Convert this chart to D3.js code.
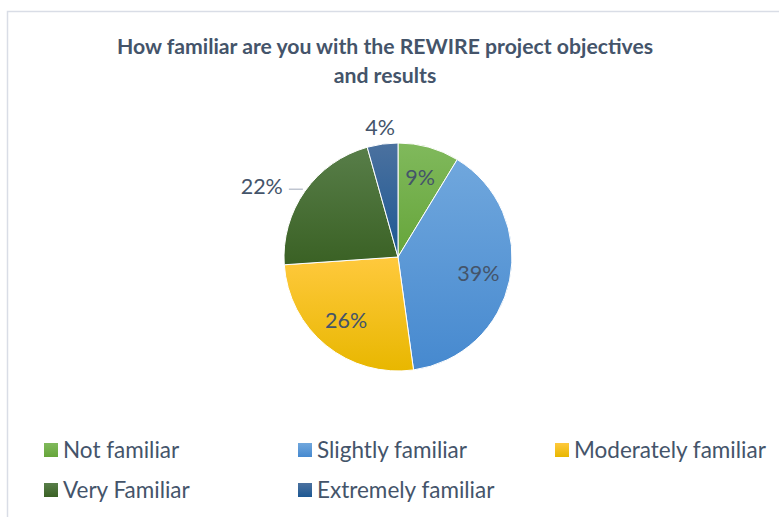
<!DOCTYPE html>
<html>
<head>
<meta charset="utf-8">
<script src="https://cdn.jsdelivr.net/npm/d3@7"></script>
<style>
  body { margin: 0; background: #fff; }
  text { font-family: Lato, "Open Sans", sans-serif; }
</style>
</head>
<body>
<div id="chart"></div>
<script>
var categories = ["Not familiar", "Slightly familiar", "Moderately familiar", "Very Familiar", "Extremely familiar"];
var counts = [2, 9, 6, 5, 1];
var colorsTop = ["#80b95c", "#70a7dd", "#ffc93d", "#587e49", "#4b719f"];
var colorsBottom = ["#66a53a", "#4689cf", "#e8b700", "#3a6124", "#1d5893"];
var outsideLabels = ["Very Familiar", "Extremely familiar"];
var titleLines = ["How familiar are you with the REWIRE project objectives", "and results"];

var width = 779, height = 517;
var cx = 398, cy = 257, radius = 114;
var textColor = "#44546a";

var svg = d3.select("#chart").append("svg")
  .attr("width", width)
  .attr("height", height);

var defs = svg.append("defs");
categories.forEach(function (c, i) {
  var g = defs.append("linearGradient")
    .attr("id", "grad" + i)
    .attr("x1", 0).attr("y1", 0).attr("x2", 0).attr("y2", 1);
  g.append("stop").attr("offset", "0%").attr("stop-color", colorsTop[i]);
  g.append("stop").attr("offset", "100%").attr("stop-color", colorsBottom[i]);
});

// chart frame
svg.append("rect")
  .attr("x", 7.5).attr("y", 11.5)
  .attr("width", 780).attr("height", 520)
  .attr("fill", "#fff")
  .attr("stroke", "#d9dde6")
  .attr("stroke-width", 1.5);

// title
svg.append("text")
  .attr("x", cx - 13)
  .attr("y", 54)
  .attr("text-anchor", "middle")
  .attr("font-size", 21.2)
  .attr("font-weight", "bold")
  .attr("fill", textColor)
  .selectAll("tspan")
  .data(titleLines)
  .enter().append("tspan")
  .attr("x", cx - 13)
  .attr("dy", function (d, i) { return i == 0 ? 0 : 29; })
  .text(function (d) { return d; });

var total = d3.sum(counts);
var pie = d3.pie().sort(null).value(function (d) { return d; });
var arcs = pie(counts);
var arc = d3.arc().innerRadius(0).outerRadius(radius);
var labelArc = d3.arc().innerRadius(radius * 0.72).outerRadius(radius * 0.72);

var pieGroup = svg.append("g").attr("transform", "translate(" + cx + "," + cy + ")");

pieGroup.selectAll("path.slice")
  .data(arcs)
  .enter().append("path")
  .attr("class", "slice")
  .attr("d", arc)
  .attr("fill", function (d, i) { return "url(#grad" + i + ")"; })
  .attr("stroke", "#fff")
  .attr("stroke-width", 1);

function pct(d) { return Math.round(d.value / total * 100) + "%"; }

pieGroup.selectAll("text.label")
  .data(arcs)
  .enter().append("text")
  .attr("class", "label")
  .attr("font-size", 21.5)
  .attr("fill", textColor)
  .attr("text-anchor", function (d, i) {
    if (categories[i] == "Very Familiar") return "end";
    return "middle";
  })
  .attr("dy", "0.35em")
  .attr("transform", function (d, i) {
    var p;
    var a = (d.startAngle + d.endAngle) / 2;
    if (categories[i] == "Very Familiar") {
      // pulled out to the left with a short leader line
      p = [Math.sin(a) * radius - 22, -Math.cos(a) * radius - 5];
    } else if (outsideLabels.indexOf(categories[i]) >= 0) {
      p = [Math.sin(a) * radius * 1.15, -Math.cos(a) * radius * 1.15];
    } else {
      p = labelArc.centroid(d);
    }
    return "translate(" + p[0] + "," + p[1] + ")";
  })
  .text(pct);

// leader line for the pulled-out label
arcs.forEach(function (d, i) {
  if (categories[i] != "Very Familiar") return;
  var a = (d.startAngle + d.endAngle) / 2;
  var ex = Math.sin(a) * radius, ey = -Math.cos(a) * radius;
  pieGroup.append("path")
    .attr("d", ["M", ex - 16, ey - 2, "L", ex - 2, ey - 2].join(" "))
    .attr("stroke", "#bfc5d0")
    .attr("stroke-width", 1.5)
    .attr("fill", "none");
});

// legend
var legendX = [44, 298, 555];
var legendY = [450, 490];
var legend = svg.append("g");
var items = legend.selectAll("g.item")
  .data(categories)
  .enter().append("g")
  .attr("class", "item")
  .attr("transform", function (d, i) {
    return "translate(" + legendX[i % 3] + "," + legendY[Math.floor(i / 3)] + ")";
  });

items.append("rect")
  .attr("x", 0).attr("y", -7)
  .attr("width", 14).attr("height", 14)
  .attr("fill", function (d, i) { return "url(#grad" + i + ")"; });

items.append("text")
  .attr("x", 19)
  .attr("dy", "0.35em")
  .attr("font-size", 22.5)
  .attr("fill", textColor)
  .text(function (d) { return d; });
</script>
</body>
</html>
